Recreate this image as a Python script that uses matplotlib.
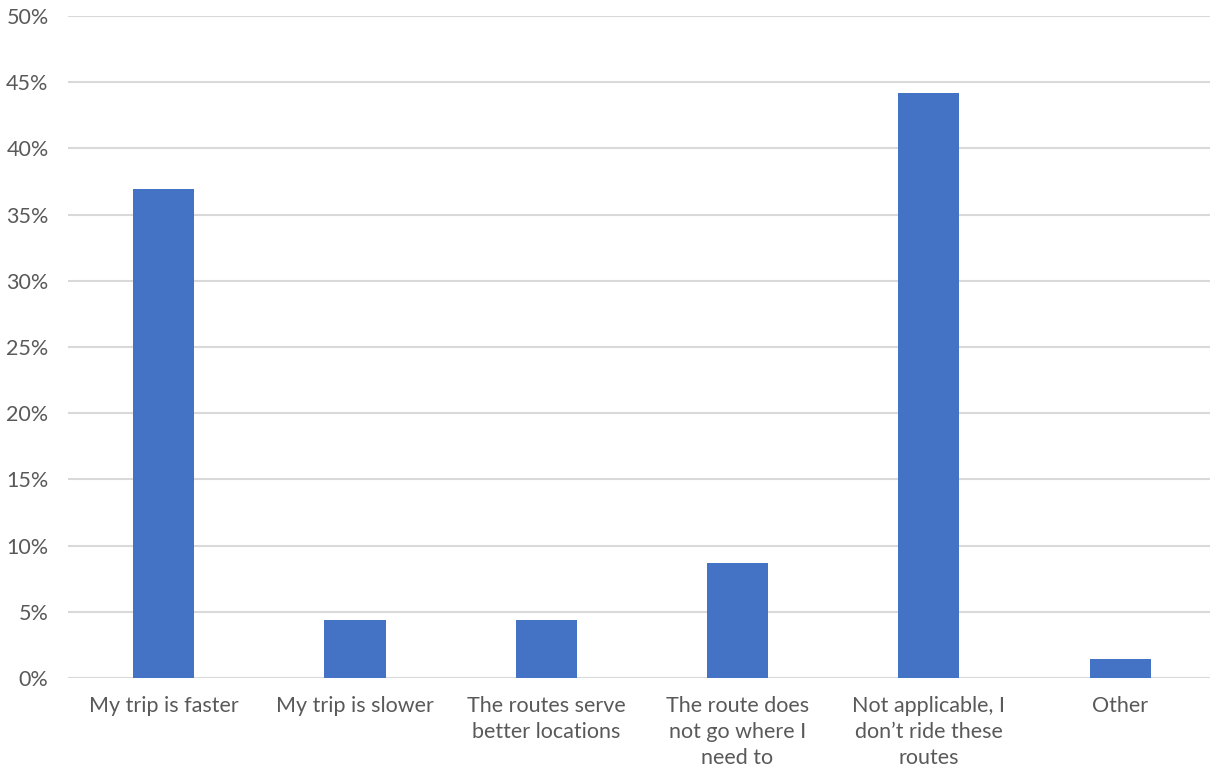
import numpy as np
import matplotlib.pyplot as plt
from matplotlib.ticker import PercentFormatter

categories = ["My trip is faster", "My trip is slower", "The routes serve\nbetter locations",
              "The route does\nnot go where I\nneed to", "Not applicable, I\ndon\u2019t ride these\nroutes", "Other"]
shares = [36.9, 4.35, 4.35, 8.7, 44.2, 1.45]
yticks = [0, 5, 10, 15, 20, 25, 30, 35, 40, 45, 50]

plt.rcParams['font.family'] = ['Lato', 'DejaVu Sans']
text_color = '#595959'

fig = plt.figure(figsize=(12.1, 7.69), dpi=100)
W, H = 1210, 769
# category band is 191.3 px wide; the last band runs a few px past the right edge
ax = fig.add_axes([68 / W, (H - 678) / H, 6 * 191.3 / W, (678 - 16) / H])

x = np.arange(len(categories))
ax.bar(x, shares, width=0.32, color='#4472C4', zorder=3)

ax.set_xlim(-0.5, 5.5)
ax.set_ylim(0, 50)
ax.set_yticks(yticks)
ax.yaxis.set_major_formatter(PercentFormatter(decimals=0))
ax.set_xticks(x)
ax.set_xticklabels(categories, linespacing=1.38)

ax.grid(axis='y', color='#D9D9D9', linewidth=1.5, zorder=0)
for s in ax.spines.values():
    s.set_visible(False)
ax.tick_params(axis='both', length=0, colors=text_color, labelsize=15.5)
ax.tick_params(axis='x', pad=13)
ax.tick_params(axis='y', pad=14)

fig.savefig('out.png', dpi=100)
